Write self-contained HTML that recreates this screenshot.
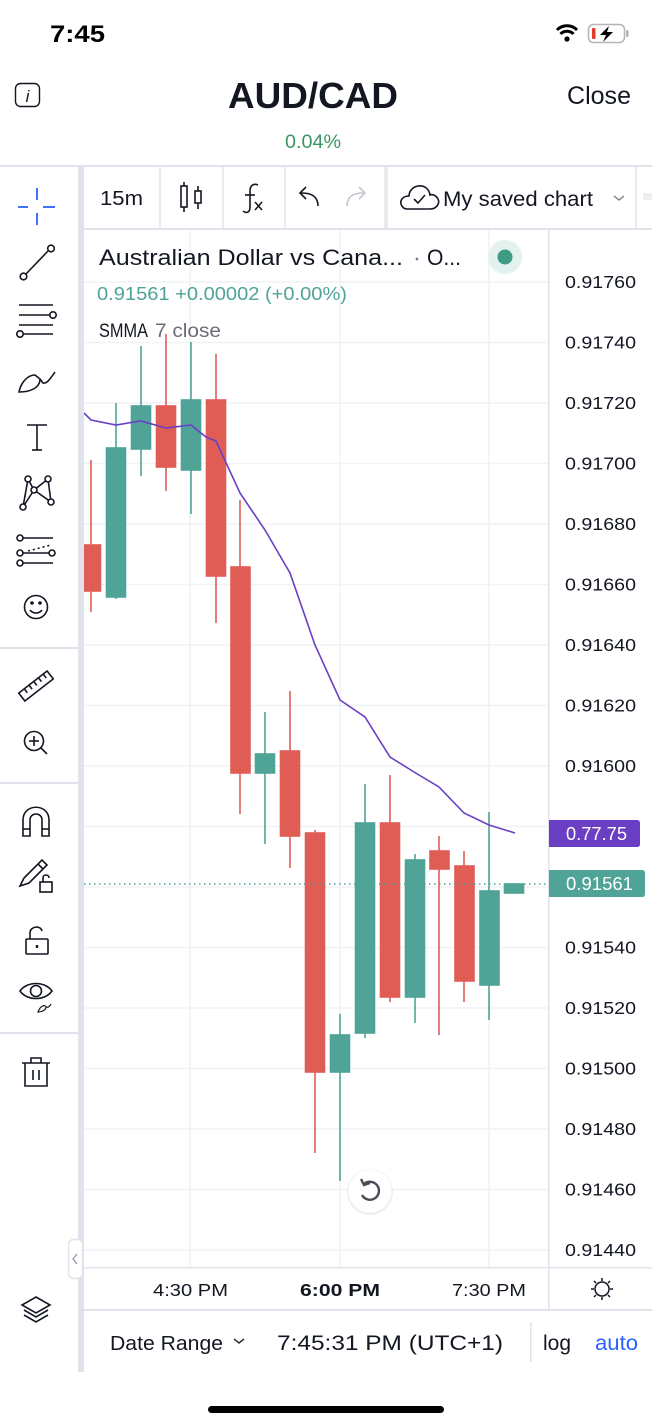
<!DOCTYPE html>
<html><head><meta charset="utf-8"><style>
html,body{margin:0;padding:0;background:#fff;width:652px;height:1420px;overflow:hidden}
svg{display:block}
text{font-family:"Liberation Sans",sans-serif}
</style></head><body>
<svg width="652" height="1420" viewBox="0 0 652 1420" xmlns="http://www.w3.org/2000/svg">
<rect width="652" height="1420" fill="#fff"/>
<!-- status bar -->
<text x="50" y="42" font-size="24" font-weight="bold" fill="#000" textLength="55" lengthAdjust="spacingAndGlyphs">7:45</text>
<g transform="translate(567,34)">
<path d="M-10,-4 A14,14 0 0 1 10,-4" fill="none" stroke="#000" stroke-width="3"/>
<path d="M-6.5,0 A9,9 0 0 1 6.5,0" fill="none" stroke="#000" stroke-width="3"/>
<circle cx="0" cy="5" r="2.6" fill="#000"/>
</g>
<rect x="588.5" y="24.5" width="36" height="18" rx="5" fill="none" stroke="#b5b5b5" stroke-width="1.5"/>
<rect x="626" y="30" width="2.5" height="7" rx="1" fill="#b5b5b5"/>
<rect x="592" y="28" width="3.5" height="11" rx="1" fill="#e23b2e"/>
<path d="M609,26 L600,35 L606,35 L603,42 L613,32 L607,32 Z" fill="#000"/>

<!-- header -->
<rect x="15.5" y="83.5" width="24" height="23" rx="5" fill="none" stroke="#131722" stroke-width="1.4"/>
<text x="27.5" y="102" font-size="17" font-style="italic" font-family="Liberation Serif" text-anchor="middle" fill="#131722">i</text>
<text x="228" y="108" font-size="36" font-weight="bold" fill="#131722" textLength="170" lengthAdjust="spacingAndGlyphs">AUD/CAD</text>
<text x="567" y="104" font-size="25" fill="#131722" textLength="64" lengthAdjust="spacingAndGlyphs">Close</text>
<text x="285" y="148" font-size="19" fill="#3b9563" textLength="56" lengthAdjust="spacingAndGlyphs">0.04%</text>

<!-- toolbar row -->
<rect x="0" y="165" width="652" height="2" fill="#e0e3eb"/>
<rect x="84" y="228" width="568" height="2" fill="#e0e3eb"/>
<rect x="78" y="165" width="6" height="1207" fill="#e0e3eb"/>
<rect x="159" y="167" width="2" height="61" fill="#e9ebf0"/>
<rect x="222" y="167" width="2" height="61" fill="#e9ebf0"/>
<rect x="284" y="167" width="2" height="61" fill="#e9ebf0"/>
<rect x="384" y="167" width="4" height="61" fill="#e9ebf0"/>
<rect x="635" y="167" width="2" height="61" fill="#e9ebf0"/>
<text x="100" y="205" font-size="20" fill="#131722" textLength="43" lengthAdjust="spacingAndGlyphs">15m</text>
<g stroke="#131722" stroke-width="1.6" fill="none">
<line x1="184" y1="182" x2="184" y2="212"/><rect x="181" y="186" width="6" height="21" fill="#fff"/>
<line x1="198" y1="186" x2="198" y2="209"/><rect x="195" y="191" width="6" height="12" fill="#fff"/>
<path d="M258,185 C253,183 250,186 250,191 L250,207 C250,212 247,214 243,211"/>
<line x1="245" y1="195" x2="255" y2="195"/>
<line x1="255" y1="202" x2="262" y2="210"/><line x1="262" y1="202" x2="255" y2="210"/>
<path d="M318,206 C318,197 312,193 302,193 L300,193"/><path d="M306,187 L300,193 L306,199"/>
</g>
<g stroke="#c2c6ce" stroke-width="1.6" fill="none">
<path d="M347,206 C347,197 353,193 363,193 L365,193"/><path d="M359,187 L365,193 L359,199"/>
</g>
<path d="M407,209 L430,209 C437,209 440,203 438,199 C436,195 432,194 430,195 C429,188 423,185 418,186 C412,187 409,192 409,196 C403,196 400,200 401,204 C402,207 404,209 407,209 Z" fill="none" stroke="#131722" stroke-width="1.6"/>
<path d="M414,199 L418,203 L425,195" fill="none" stroke="#131722" stroke-width="1.6"/>
<text x="443" y="206" font-size="21" fill="#131722" textLength="150" lengthAdjust="spacingAndGlyphs">My saved chart</text>
<path d="M614,196 L619,200 L624,196" fill="none" stroke="#787b86" stroke-width="1.4"/>
<rect x="643" y="193" width="9" height="7" rx="2" fill="#eee"/>

<!-- left toolbar icons -->
<g stroke="#2962ff" stroke-width="1.8">
<line x1="18" y1="207" x2="28" y2="207"/><line x1="43" y1="207" x2="55" y2="207"/>
<line x1="37" y1="188" x2="37" y2="200"/><line x1="37" y1="213" x2="37" y2="225"/>
</g>
<g stroke="#131722" stroke-width="1.6" fill="none">
<line x1="26" y1="274" x2="48" y2="251"/><circle cx="23.5" cy="276.5" r="3.3" fill="#fff"/><circle cx="51" cy="248.5" r="3.3" fill="#fff"/>
<line x1="19" y1="305" x2="53" y2="305"/><line x1="19" y1="315" x2="50" y2="315"/><circle cx="53" cy="315" r="3.2" fill="#fff"/>
<line x1="19" y1="325" x2="53" y2="325"/><line x1="23" y1="334" x2="53" y2="334"/><circle cx="20" cy="334" r="3.2" fill="#fff"/>
<path d="M19,392 C21,382 28,375 35,375 L40,379 C40,387 32,392 19,392 Z"/>
<path d="M40,379 L43,383 C47,384 50,379 55,372"/>
<line x1="27" y1="425" x2="47" y2="425"/><line x1="37" y1="425" x2="37" y2="450"/><line x1="32" y1="450" x2="42" y2="450"/>
<path d="M23,507 L28,479 L34,490 L48,479 L51,502 L34,490 L23,507"/>
<circle cx="28" cy="479" r="3" fill="#fff"/><circle cx="48" cy="479" r="3" fill="#fff"/><circle cx="34" cy="490" r="3" fill="#fff"/><circle cx="23" cy="507" r="3" fill="#fff"/><circle cx="51" cy="502" r="3" fill="#fff"/>
<line x1="23" y1="538" x2="53" y2="538"/><circle cx="20" cy="538" r="3" fill="#fff"/>
<line x1="28" y1="551" x2="51" y2="545" stroke-dasharray="2 3"/>
<line x1="23" y1="553" x2="49" y2="553"/><circle cx="20" cy="553" r="3" fill="#fff"/><circle cx="52" cy="553" r="3" fill="#fff"/>
<line x1="23" y1="563" x2="53" y2="563"/><circle cx="20" cy="563" r="3" fill="#fff"/>
<circle cx="36" cy="607" r="11.5"/><circle cx="32" cy="603" r="1" fill="#131722"/><circle cx="40" cy="603" r="1" fill="#131722"/><path d="M30,610 C33,614 39,614 42,610"/>
<!-- ruler -->
<g transform="translate(36,686) rotate(-38)"><rect x="-18" y="-5" width="36" height="10"/>
<line x1="-11" y1="-5" x2="-11" y2="0"/><line x1="-5" y1="-5" x2="-5" y2="0"/><line x1="1" y1="-5" x2="1" y2="0"/><line x1="7" y1="-5" x2="7" y2="0"/><line x1="13" y1="-5" x2="13" y2="0"/></g>
<circle cx="34" cy="741" r="9.5"/><line x1="41" y1="748" x2="47" y2="754"/><line x1="29" y1="741" x2="39" y2="741"/><line x1="34" y1="736" x2="34" y2="746"/>
<!-- magnet -->
<path d="M23,836 L23,820 C23,803 49,803 49,820 L49,836 L42,836 L42,820 C42,812 30,812 30,820 L30,836 Z"/>
<line x1="23" y1="829" x2="30" y2="829"/><line x1="42" y1="829" x2="49" y2="829"/>
<!-- pencil lock -->
<path d="M20,886 L24,878 L42,860 L47,865 L29,883 Z"/><line x1="38" y1="864" x2="43" y2="869"/>
<rect x="40" y="882" width="12" height="10"/><path d="M43,882 L43,878 C43,874 49,874 49,878"/>
<!-- lock -->
<rect x="26" y="939" width="22" height="15" rx="1"/><path d="M30,939 L30,933 C30,926 41,925 42,931"/><line x1="37" y1="945" x2="37" y2="948" stroke-width="2.4"/>
<!-- eye -->
<path d="M20,991 C27,981 45,981 52,991 C45,1001 27,1001 20,991 Z"/><circle cx="36" cy="991" r="5.5"/>
<path d="M38,1012 C40,1006 45,1004 46,1007 C46,1010 42,1012 38,1012 Z" stroke-width="1.2"/><path d="M46,1007 C48,1008 50,1006 51,1004" stroke-width="1.2"/>
<!-- trash -->
<line x1="22" y1="1063" x2="50" y2="1063"/><path d="M31,1063 L31,1058 L41,1058 L41,1063"/><path d="M25,1063 L25,1086 L47,1086 L47,1063"/>
<line x1="33" y1="1070" x2="33" y2="1080"/><line x1="39" y1="1070" x2="39" y2="1080"/>
<!-- layers -->
<path d="M36,1297 L50,1305 L36,1313 L22,1305 Z"/><path d="M24,1310 L36,1317 L48,1310"/><path d="M24,1315 L36,1322 L48,1315"/>
</g>
<rect x="0" y="647" width="78" height="2" fill="#e0e3eb"/>
<rect x="0" y="782" width="78" height="2" fill="#e0e3eb"/>
<rect x="0" y="1032" width="78" height="2" fill="#e0e3eb"/>

<!-- chart area -->
<svg x="84" y="230" width="465" height="1038" viewBox="84 230 465 1038" overflow="hidden">
<g stroke="#f0f2f6" stroke-width="1.5">
<line x1="84" y1="282" x2="549" y2="282"/><line x1="84" y1="342.5" x2="549" y2="342.5"/><line x1="84" y1="403" x2="549" y2="403"/>
<line x1="84" y1="463.5" x2="549" y2="463.5"/><line x1="84" y1="524" x2="549" y2="524"/><line x1="84" y1="584.5" x2="549" y2="584.5"/>
<line x1="84" y1="645" x2="549" y2="645"/><line x1="84" y1="705.5" x2="549" y2="705.5"/><line x1="84" y1="766" x2="549" y2="766"/>
<line x1="84" y1="826.5" x2="549" y2="826.5"/><line x1="84" y1="887" x2="549" y2="887"/><line x1="84" y1="947.5" x2="549" y2="947.5"/>
<line x1="84" y1="1008" x2="549" y2="1008"/><line x1="84" y1="1068.5" x2="549" y2="1068.5"/><line x1="84" y1="1129" x2="549" y2="1129"/>
<line x1="84" y1="1189.5" x2="549" y2="1189.5"/><line x1="84" y1="1250" x2="549" y2="1250"/>
<line x1="190" y1="230" x2="190" y2="1268"/><line x1="340" y1="230" x2="340" y2="1268"/><line x1="489" y1="230" x2="489" y2="1268"/>
</g>
<!-- candles -->
<g stroke-width="1.6">
<g stroke="#e05d56" fill="#e05d56">
<line x1="91" y1="460" x2="91" y2="612"/><rect x="81.5" y="545" width="19" height="46"/>
<line x1="166" y1="334" x2="166" y2="491"/><rect x="156.5" y="406" width="19" height="61"/>
<line x1="216" y1="354" x2="216" y2="623"/><rect x="206.5" y="400" width="19" height="176"/>
<line x1="240" y1="500" x2="240" y2="814"/><rect x="231" y="567" width="19" height="206"/>
<line x1="290" y1="691" x2="290" y2="868"/><rect x="280.5" y="751" width="19" height="85"/>
<line x1="315" y1="830" x2="315" y2="1153"/><rect x="305.5" y="833" width="19" height="239"/>
<line x1="390" y1="775" x2="390" y2="1002"/><rect x="380.5" y="823" width="19" height="174"/>
<line x1="439" y1="836" x2="439" y2="1035"/><rect x="430" y="851" width="19" height="18"/>
<line x1="464" y1="851" x2="464" y2="1002"/><rect x="455" y="866" width="19" height="115"/>
</g>
<g stroke="#4fa397" fill="#4fa397">
<line x1="116" y1="403" x2="116" y2="599"/><rect x="106.5" y="448" width="19" height="149"/>
<line x1="141" y1="346" x2="141" y2="476"/><rect x="131.5" y="406" width="19" height="43"/>
<line x1="191" y1="342" x2="191" y2="514"/><rect x="181.5" y="400" width="19" height="70"/>
<line x1="265" y1="712" x2="265" y2="844"/><rect x="255.5" y="754" width="19" height="19"/>
<line x1="340" y1="1014" x2="340" y2="1181"/><rect x="330.5" y="1035" width="19" height="37"/>
<line x1="365" y1="784" x2="365" y2="1038"/><rect x="355.5" y="823" width="19" height="210"/>
<line x1="415" y1="854" x2="415" y2="1023"/><rect x="405.5" y="860" width="19" height="137"/>
<line x1="489" y1="812" x2="489" y2="1020"/><rect x="480" y="891" width="19" height="94"/>
<rect x="504.5" y="884" width="19" height="9"/>
</g>
</g>
<line x1="84" y1="884" x2="549" y2="884" stroke="#4fa397" stroke-width="1.4" stroke-dasharray="1.5 3.5"/>
<polyline fill="none" stroke="#6a3fc4" stroke-width="1.6" points="84,413 91,420 116,425 141,421 166,428 191,425 206,437 216,441 240,493 265,530 290,573 315,645 340,700 365,717 390,757 414,772 439,787 464,813 489,825 515,833"/>
</svg>

<!-- legend -->
<text x="99" y="265" font-size="22" fill="#131722" textLength="304" lengthAdjust="spacingAndGlyphs">Australian Dollar vs Cana...</text>
<circle cx="417" cy="259" r="1.4" fill="#787b86"/>
<text x="427" y="265" font-size="22" fill="#131722" textLength="34" lengthAdjust="spacingAndGlyphs">O...</text>
<circle cx="505" cy="257" r="17" fill="#e3f2ee"/>
<circle cx="505" cy="257" r="7.5" fill="#3f9b84"/>
<text x="97" y="300" font-size="18" fill="#4fa397" textLength="250" lengthAdjust="spacingAndGlyphs">0.91561  +0.00002 (+0.00%)</text>
<text x="99" y="337" font-size="19" fill="#131722" textLength="49" lengthAdjust="spacingAndGlyphs">SMMA</text>
<text x="155" y="337" font-size="19" fill="#6a6d78" textLength="66" lengthAdjust="spacingAndGlyphs">7 close</text>

<!-- reset button -->
<circle cx="370" cy="1192" r="23" fill="#000" opacity="0.06"/>
<circle cx="370" cy="1191" r="21.5" fill="#fff"/>
<path d="M364,1184 A9,9 0 1 1 362,1195" fill="none" stroke="#4a4d57" stroke-width="2.4"/>
<path d="M361,1179 L364,1185 L370,1183" fill="none" stroke="#4a4d57" stroke-width="2.4"/>

<!-- price axis -->
<rect x="548" y="230" width="1.5" height="1080" fill="#e0e3eb"/>
<g font-size="17.5" fill="#131722">
<text x="565" y="288" textLength="71" lengthAdjust="spacingAndGlyphs">0.91760</text>
<text x="565" y="348.5" textLength="71" lengthAdjust="spacingAndGlyphs">0.91740</text>
<text x="565" y="409" textLength="71" lengthAdjust="spacingAndGlyphs">0.91720</text>
<text x="565" y="469.5" textLength="71" lengthAdjust="spacingAndGlyphs">0.91700</text>
<text x="565" y="530" textLength="71" lengthAdjust="spacingAndGlyphs">0.91680</text>
<text x="565" y="590.5" textLength="71" lengthAdjust="spacingAndGlyphs">0.91660</text>
<text x="565" y="651" textLength="71" lengthAdjust="spacingAndGlyphs">0.91640</text>
<text x="565" y="711.5" textLength="71" lengthAdjust="spacingAndGlyphs">0.91620</text>
<text x="565" y="772" textLength="71" lengthAdjust="spacingAndGlyphs">0.91600</text>
<text x="565" y="953.5" textLength="71" lengthAdjust="spacingAndGlyphs">0.91540</text>
<text x="565" y="1014" textLength="71" lengthAdjust="spacingAndGlyphs">0.91520</text>
<text x="565" y="1074.5" textLength="71" lengthAdjust="spacingAndGlyphs">0.91500</text>
<text x="565" y="1135" textLength="71" lengthAdjust="spacingAndGlyphs">0.91480</text>
<text x="565" y="1195.5" textLength="71" lengthAdjust="spacingAndGlyphs">0.91460</text>
<text x="565" y="1256" textLength="71" lengthAdjust="spacingAndGlyphs">0.91440</text>
</g>
<path d="M549,820 L637,820 Q640,820 640,823 L640,844 Q640,847 637,847 L549,847 Z" fill="#6a3fc4"/>
<text x="566" y="840" font-size="18" fill="#fff" textLength="61" lengthAdjust="spacingAndGlyphs">0.77.75</text>
<path d="M549,870 L642,870 Q645,870 645,873 L645,894 Q645,897 642,897 L549,897 Z" fill="#4fa397"/>
<text x="566" y="890" font-size="18" fill="#fff" textLength="67" lengthAdjust="spacingAndGlyphs">0.91561</text>

<!-- time axis -->
<rect x="84" y="1267" width="568" height="1.5" fill="#e0e3eb"/>
<text x="153" y="1296" font-size="17.5" fill="#131722" textLength="75" lengthAdjust="spacingAndGlyphs">4:30 PM</text>
<text x="300" y="1296" font-size="17.5" font-weight="bold" fill="#131722" textLength="80" lengthAdjust="spacingAndGlyphs">6:00 PM</text>
<text x="452" y="1296" font-size="17.5" fill="#131722" textLength="74" lengthAdjust="spacingAndGlyphs">7:30 PM</text>
<g stroke="#131722" stroke-width="1.5" fill="none">
<circle cx="602" cy="1289" r="7"/>
<line x1="602" y1="1278" x2="602" y2="1281"/><line x1="602" y1="1297" x2="602" y2="1300"/>
<line x1="591" y1="1289" x2="594" y2="1289"/><line x1="610" y1="1289" x2="613" y2="1289"/>
<line x1="594" y1="1281" x2="596" y2="1283"/><line x1="608" y1="1295" x2="610" y2="1297"/>
<line x1="610" y1="1281" x2="608" y2="1283"/><line x1="594" y1="1297" x2="596" y2="1295"/>
</g>

<!-- collapse tab -->
<rect x="68.5" y="1239.5" width="14" height="39" rx="5" fill="#fff" stroke="#e0e3eb" stroke-width="1.4"/>
<path d="M77,1254 L73,1259 L77,1264" fill="none" stroke="#9598a1" stroke-width="1.3"/>

<!-- bottom bar -->
<rect x="84" y="1309" width="568" height="2" fill="#e0e3eb"/>
<text x="110" y="1350" font-size="20" fill="#131722" textLength="113" lengthAdjust="spacingAndGlyphs">Date Range</text>
<path d="M234,1339 L239,1343 L244,1339" fill="none" stroke="#131722" stroke-width="1.4"/>
<text x="277" y="1350" font-size="21" fill="#131722" textLength="226" lengthAdjust="spacingAndGlyphs">7:45:31 PM (UTC+1)</text>
<rect x="530" y="1322" width="1.5" height="40" fill="#e0e3eb"/>
<text x="543" y="1350" font-size="21" fill="#131722" textLength="28" lengthAdjust="spacingAndGlyphs">log</text>
<text x="595" y="1350" font-size="21" fill="#2962ff" textLength="43" lengthAdjust="spacingAndGlyphs">auto</text>

<!-- home indicator -->
<rect x="208" y="1406" width="236" height="7" rx="3.5" fill="#000"/>
</svg>
</body></html>
